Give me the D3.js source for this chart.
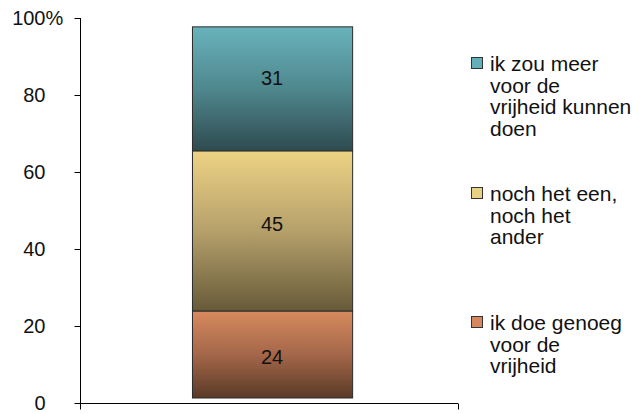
<!DOCTYPE html>
<html>
<head>
<meta charset="utf-8">
<script src="https://cdn.jsdelivr.net/npm/d3@7"></script>
<style>
  html, body { margin: 0; padding: 0; background: #fff; }
  svg { display: block; font-family: "Liberation Sans", Arial, Helvetica, sans-serif; }
</style>
</head>
<body>
<svg id="chart" width="639" height="414"></svg>
<script>
// ---- data ----
const categories = [""];
const seriesNames = [
  "ik doe genoeg voor de vrijheid",
  "noch het een, noch het ander",
  "ik zou meer voor de vrijheid kunnen doen"
];
const seriesValues = [24, 45, 31];              // data labels (percent)
const drawnEdges = [1.3, 23.9, 65.5, 97.7];     // segment edges as drawn in the picture
const legendLines = [
  ["ik doe genoeg", "voor de", "vrijheid"],
  ["noch het een,", "noch het", "ander"],
  ["ik zou meer", "voor de", "vrijheid kunnen", "doen"]
];
const yTicks = [0, 20, 40, 60, 80, 100];
const gradTop = ["#d88a5e", "#eed384", "#69b3bb"];
const gradMid = ["#a4674a", "#b5a06b", "#4f878e"];
const gradBottom = ["#5a3a27", "#675a39", "#2e4b4f"];
const legendFill = ["#d5875d", "#ead082", "#63b0b8"];

// ---- layout ----
const svg = d3.select("#chart");
const y = d3.scaleLinear().domain([0, 100]).range([403, 18]);
const x = d3.scaleBand().domain(categories).range([80, 458])
  .paddingInner(0).paddingOuter(0.68).align(0.514);

const defs = svg.append("defs");
seriesNames.forEach((s, i) => {
  const g = defs.append("linearGradient").attr("id", "g" + i)
    .attr("x1", 0).attr("y1", 0).attr("x2", 0).attr("y2", 1);
  g.append("stop").attr("offset", "0%").attr("stop-color", gradTop[i]);
  g.append("stop").attr("offset", "50%").attr("stop-color", gradMid[i]);
  g.append("stop").attr("offset", "100%").attr("stop-color", gradBottom[i]);
});

// bars
const segs = seriesValues.map((v, i) => ({ i, lo: drawnEdges[i], hi: drawnEdges[i + 1] }));
svg.append("g").selectAll("rect").data(segs).join("rect")
  .attr("x", x(categories[0]) + 0.5)
  .attr("width", x.bandwidth())
  .attr("y", d => y(d.hi))
  .attr("height", d => y(d.lo) - y(d.hi))
  .attr("fill", d => `url(#g${d.i})`)
  .attr("stroke", "#2a2a2a")
  .attr("stroke-width", 1);

// data labels at true value centres
let cum = 0;
const labs = seriesValues.map(v => { const c = cum + v / 2; cum += v; return { v, c }; });
svg.append("g").selectAll("text").data(labs).join("text")
  .attr("x", x(categories[0]) + x.bandwidth() / 2)
  .attr("y", d => y(d.c))
  .attr("dy", "0.35em")
  .attr("text-anchor", "middle")
  .attr("font-size", 20)
  .attr("fill", "#111")
  .text(d => d.v);

// y axis
const yAxis = d3.axisLeft(y).tickValues(yTicks).tickSize(5).tickPadding(35 - 5)
  .tickFormat(d => d);
const ya = svg.append("g").attr("transform", "translate(80.5,0)").call(yAxis);
ya.select(".domain").attr("stroke", "#000").attr("d", `M0,${y(100)}V${y(0)}`);
ya.selectAll(".tick line").attr("stroke", "#000").attr("x2", -6);
ya.selectAll(".tick text").attr("font-size", 20).attr("fill", "#111")
  .attr("font-family", "Liberation Sans, Arial, sans-serif")
  .attr("x", -35);
ya.selectAll(".tick").filter(d => d === 100).append("text")
  .attr("x", -35).attr("dy", "0.32em").attr("text-anchor", "start")
  .attr("font-size", 20).attr("fill", "#111")
  .attr("font-family", "Liberation Sans, Arial, sans-serif")
  .text("%");

// x axis
const xa = svg.append("g").attr("transform", `translate(0,${y(0) + 0.5})`);
xa.append("line").attr("x1", x.range()[0]).attr("x2", x.range()[1])
  .attr("stroke", "#000");
xa.selectAll("line.t").data(x.range()).join("line").attr("class", "t")
  .attr("x1", d => d + 0.5).attr("x2", d => d + 0.5).attr("y1", 0).attr("y2", 6)
  .attr("stroke", "#000");

// legend (top to bottom: reversed series)
const legendBase = [330, 201, 71];
const leg = svg.append("g");
seriesNames.forEach((s, i) => {
  const g = leg.append("g").attr("transform", `translate(0,${legendBase[i]})`);
  g.append("rect").attr("x", 471.5).attr("y", -13.5).attr("width", 11).attr("height", 11)
    .attr("fill", legendFill[i]).attr("stroke", "#333").attr("stroke-width", 1);
  g.selectAll("text").data(legendLines[i]).join("text")
    .attr("x", 490).attr("y", (d, k) => k * 21.7)
    .attr("font-size", 21).attr("fill", "#111")
    .text(d => d);
});
</script>
</body>
</html>
